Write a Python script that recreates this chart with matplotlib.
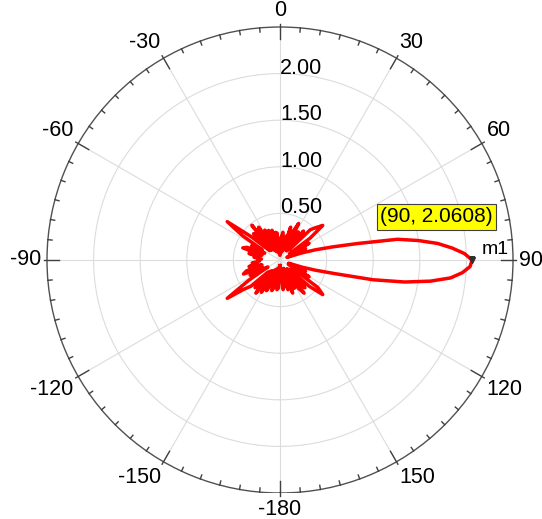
import numpy as np
import matplotlib
matplotlib.use("Agg")
import matplotlib.pyplot as plt

plt.rcParams['font.family'] = ['Liberation Sans', 'DejaVu Sans']

# angle in degrees (0 at top, clockwise), magnitude
theta_a = np.arange(-180, 70, 3)
r_a = [0.06, 0.30, 0.32, 0.08, 0.30, 0.34, 0.10, 0.30, 0.36, 0.12,   # -180 .. -153
       0.40, 0.14, 0.44, 0.15, 0.40, 0.18, 0.42, 0.50, 0.70, 0.40,   # -150 .. -123
       0.15, 0.36, 0.20, 0.42, 0.38, 0.20, 0.34, 0.25, 0.30, 0.22,   # -120 .. -93
       0.24, 0.20, 0.28, 0.24, 0.34, 0.20, 0.42, 0.38, 0.18, 0.34,   # -90 .. -63
       0.22, 0.48, 0.70, 0.40, 0.15, 0.40, 0.14, 0.48, 0.15, 0.42,   # -60 .. -33
       0.12, 0.36, 0.10, 0.34, 0.12, 0.33, 0.08, 0.30, 0.29, 0.08,   # -30 .. -3
       0.05, 0.24, 0.30, 0.08, 0.26, 0.10, 0.37, 0.12, 0.32, 0.44,   # 0 .. 27
       0.15, 0.36, 0.12, 0.40, 0.15, 0.46, 0.52, 0.59, 0.40, 0.12,   # 30 .. 57
       0.36, 0.12, 0.30, 0.08]                                       # 60 .. 69

# main lobe
theta_b = np.arange(70, 111, 2)
r_b = [0.10, 0.25, 0.40, 0.58, 0.85, 1.28, 1.50, 1.70, 1.85, 1.98,
       2.0608, 2.04, 1.96, 1.84, 1.63, 1.36, 1.02, 0.60, 0.40, 0.25, 0.10]

theta_c = np.arange(111, 181, 3)
r_c = [0.10, 0.30, 0.10, 0.36, 0.15, 0.50, 0.59, 0.42, 0.14, 0.40,
       0.12, 0.44, 0.36, 0.12, 0.34, 0.10, 0.38, 0.10, 0.33, 0.10,
       0.28, 0.32, 0.08, 0.06]

angle_ticks = [0, 30, 60, 90, 120, 150, 180, -150, -120, -90, -60, -30]
angle_labels = ['0', '30', '60', '90', '120', '150', '-180',
                '-150', '-120', '-90', '-60', '-30']
r_ticks = [0.5, 1.0, 1.5, 2.0]
r_labels = ['0.50', '1.00', '1.50', '2.00']

m1_theta = 90
m1_r = 2.0608

theta = np.concatenate([theta_a, theta_b, theta_c])
r = np.concatenate([r_a, r_b, r_c])

fig = plt.figure(figsize=(5.42, 5.19), dpi=100)
ax = fig.add_axes([47/542, 26/519, 466/542, 466/519], projection='polar')
ax.set_autoscale_on(False)
ax.set_theta_zero_location('N')
ax.set_theta_direction(-1)
ax.set_xlim(-np.pi, np.pi)
ax.set_ylim(0, 2.5)
ax.set_xticks(np.deg2rad(angle_ticks))
ax.set_xticklabels([])
ax.set_yticks(r_ticks)
ax.set_yticklabels([])
ax.tick_params(length=0)
ax.grid(True, color='#dcdcdc', lw=0.8)
ax.spines['polar'].set_color('#505050')
ax.spines['polar'].set_linewidth(1.0)

# ticks on the outer ring
for a in range(-180, 180, 5):
    t = np.deg2rad(a)
    if a % 30 == 0:
        ax.plot([t, t], [2.37, 2.53], color='#404040', lw=1, clip_on=False, zorder=4)
    else:
        ax.plot([t, t], [2.455, 2.5], color='#404040', lw=1, clip_on=False, zorder=4)

# angle labels outside the ring
for a, lab in zip(angle_ticks, angle_labels):
    s, c = np.sin(np.deg2rad(a)), np.cos(np.deg2rad(a))
    ha = 'left' if s > 0.3 else ('right' if s < -0.3 else 'center')
    va = 'bottom' if c > 0.3 else ('top' if c < -0.3 else 'center')
    kw = {}
    if lab == '-180':
        kw['bbox'] = dict(fc='white', ec='none', pad=4)
    ax.text(np.deg2rad(a), 2.56, lab, ha=ha, va=va, fontsize=15.5,
            clip_on=False, zorder=3, **kw)

# radial labels
for rv, lab in zip(r_ticks, r_labels):
    ax.text(0, rv, lab, ha='left', va='baseline', fontsize=15.5, zorder=3)

ax.plot(np.deg2rad(theta), r, color='#ff0000', lw=2.5, zorder=5)

# marker m1
ax.plot(np.deg2rad(m1_theta), m1_r, marker='v', color='#303030', ms=5, zorder=6)
ax.annotate('m1', xy=(np.deg2rad(m1_theta), m1_r), xytext=(7, 4),
            textcoords='offset points', ha='left', va='baseline', fontsize=14)
ax.annotate('(90, 2.0608)', xy=(np.deg2rad(m1_theta), m1_r), xytext=(-25.5, 31),
            textcoords='offset points', ha='center', va='center', fontsize=15,
            bbox=dict(boxstyle='square,pad=0.15', fc='#ffff00', ec='#404040', lw=0.8),
            zorder=7)

ax.set_xlim(-np.pi, np.pi)
ax.set_ylim(0, 2.5)
fig.savefig('out.png', dpi=100)
